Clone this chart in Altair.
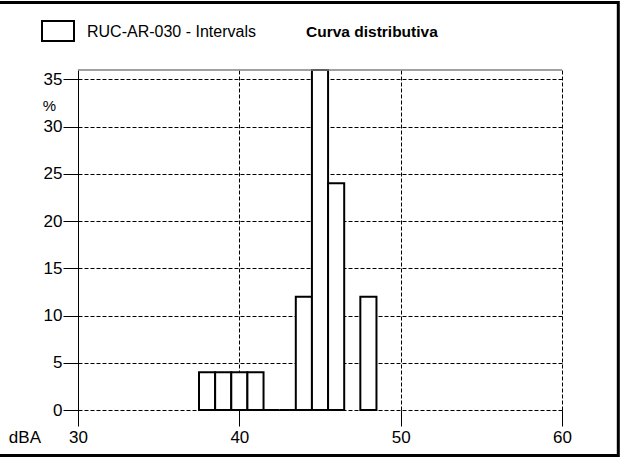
import altair as alt
import pandas as pd

# Distribution of sound levels (1 dBA classes) as percentage of intervals
level_dba = [38, 39, 40, 41, 42, 43, 44, 45, 46, 48]
percent = [4, 4, 4, 4, 0, 0, 12, 36, 24, 12]

x_ticks = [30, 40, 50, 60]
y_ticks = [0, 5, 10, 15, 20, 25, 30, 35]

series_name = "RUC-AR-030 - Intervals"
chart_title = "Curva distributiva"

FONT = "Liberation Sans"
W, H = 484, 340

df = pd.DataFrame({"level": level_dba, "pct": percent})

x_scale = alt.Scale(domain=[30, 60], nice=False, zero=False)
y_scale = alt.Scale(domain=[0, 36], nice=False)

x_axis = alt.Axis(
    values=x_ticks, title=None, domain=False, grid=True,
    gridDash=[4, 2], gridColor="black", gridWidth=1,
    tickSize=16, tickColor="black", tickWidth=1,
    labelFont=FONT, labelFontSize=17, labelColor="black", labelPadding=3,
    labelFlush=False,
)
y_axis = alt.Axis(
    values=y_ticks, title=None, domain=True, domainColor="black", domainWidth=1,
    grid=True, gridDash=[4, 2], gridColor="black", gridWidth=1,
    tickSize=15, tickColor="black", tickWidth=1,
    labelFont=FONT, labelFontSize=17, labelColor="black", labelPadding=1,
    labelFlush=False,
)

bars = (
    alt.Chart(df)
    .transform_calculate(x0="datum.level - 0.5", x1="datum.level + 0.5")
    .mark_rect(fill="white", stroke="black", strokeWidth=2)
    .encode(
        x=alt.X("x0:Q", scale=x_scale, axis=x_axis),
        x2="x1:Q",
        y=alt.Y("pct:Q", scale=y_scale, axis=y_axis),
        y2=alt.datum(0),
    )
)

frame_top = alt.Chart().mark_rule(color="#808080", strokeWidth=1.5).encode(
    x=alt.value(0), x2=alt.value(W), y=alt.value(0)
)

outer = alt.Chart().mark_rect(fill="transparent", stroke="black", strokeWidth=3).encode(
    x=alt.value(-90), x2=alt.value(540.3), y=alt.value(-67.5), y2=alt.value(385.5)
)

key_box = alt.Chart().mark_rect(fill="white", stroke="black", strokeWidth=2).encode(
    x=alt.value(-36), x2=alt.value(-4), y=alt.value(-49), y2=alt.value(-29)
)

key_label = alt.Chart().mark_text(
    text=series_name, font=FONT, fontSize=16, align="left", baseline="alphabetic", color="black"
).encode(x=alt.value(9), y=alt.value(-33.3))

title_text = alt.Chart().mark_text(
    text=chart_title, font=FONT, fontSize=15.5, fontWeight="bold", align="left",
    baseline="alphabetic", color="black"
).encode(x=alt.value(228), y=alt.value(-33.3))

pct_label = alt.Chart().mark_text(
    text="%", font=FONT, fontSize=15, align="center", baseline="alphabetic", color="black"
).encode(x=alt.value(-28.5), y=alt.value(41))

unit_label = alt.Chart().mark_text(
    text="dBA", font=FONT, fontSize=17, align="right", baseline="alphabetic", color="black"
).encode(x=alt.value(-37), y=alt.value(373.3))

chart = (
    alt.layer(bars, frame_top, outer, key_box, key_label, title_text, pct_label, unit_label)
    .properties(
        width=W, height=H,
        autosize=alt.AutoSizeParams(type="none"),
        padding={"left": 78, "top": 70, "right": 60, "bottom": 49},
        background="white",
    )
    .configure_view(stroke=None)
)

chart.save("out.html", embed_options={"renderer": "svg", "actions": False})
